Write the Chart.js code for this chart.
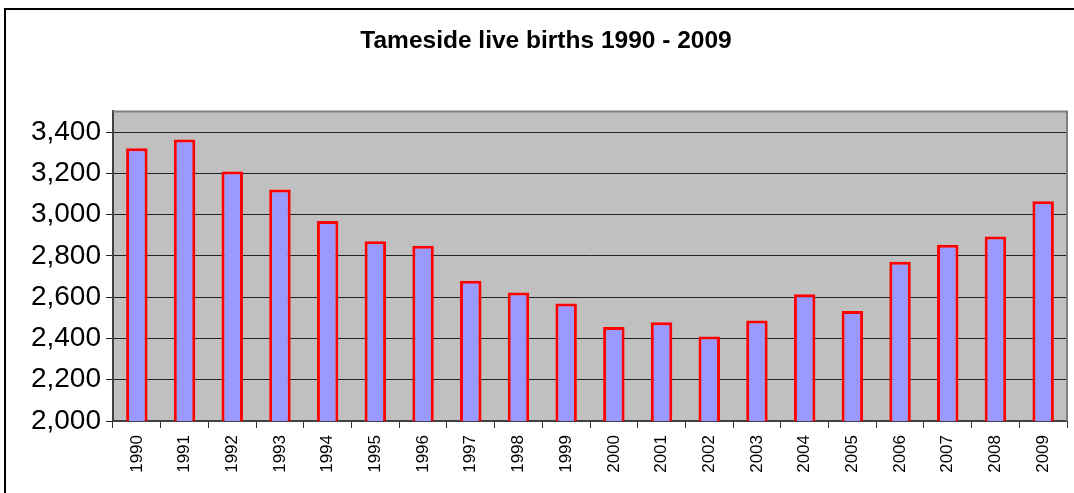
<!DOCTYPE html>
<html lang="en">

<head>
    <meta charset="UTF-8">
    <title>Tameside live births</title>
    <script src="https://cdn.jsdelivr.net/npm/chart.js"></script>
    <style>
        html, body { margin: 0; padding: 0; overflow: hidden; background: #fff; }
        #wrap { position: absolute; left: 0; top: 0; width: 1096px; height: 493px; }
    </style>
</head>

<body>
    <div id="wrap">
        <canvas id="myChart"></canvas>
    </div>

    <script>
        // data
        const years = ['1990', '1991', '1992', '1993', '1994', '1995', '1996', '1997', '1998', '1999',
            '2000', '2001', '2002', '2003', '2004', '2005', '2006', '2007', '2008', '2009'];
        const births = [3322, 3364, 3209, 3122, 2969, 2871, 2849, 2680, 2622, 2569,
            2455, 2479, 2410, 2487, 2614, 2533, 2772, 2854, 2894, 3065];
        const yTicks = [2000, 2200, 2400, 2600, 2800, 3000, 3200, 3400];
        const titleText = 'Tameside live births 1990 - 2009';

        // grey plot area + outer frame
        const frame = {
            id: 'frame',
            beforeDraw(chart) {
                const ctx = chart.ctx;
                const a = chart.chartArea;
                ctx.save();
                ctx.strokeStyle = '#000';
                ctx.lineWidth = 2;
                ctx.strokeRect(5, 9, chart.width + 20, chart.height + 20);
                ctx.fillStyle = '#c0c0c0';
                ctx.fillRect(a.left, a.top, a.right - a.left, a.bottom - a.top);
                ctx.restore();
            },
            afterDraw(chart) {
                const ctx = chart.ctx;
                const a = chart.chartArea;
                ctx.save();
                ctx.strokeStyle = '#808080';
                ctx.lineWidth = 2;
                ctx.beginPath();
                ctx.moveTo(a.left, a.top);
                ctx.lineTo(a.right, a.top);
                ctx.lineTo(a.right, a.bottom);
                ctx.stroke();
                ctx.restore();
            }
        };

        const data = {
            labels: years,
            datasets: [{
                label: 'Live births',
                data: births,
                backgroundColor: '#9999ff',
                borderColor: '#ff0000',
                borderWidth: 3,
                barPercentage: 0.45,
                categoryPercentage: 1
            }]
        };

        const config = {
            type: 'bar',
            data: data,
            plugins: [frame],
            options: {
                responsive: true,
                maintainAspectRatio: false,
                animation: false,
                layout: { padding: { left: 25, right: 29, top: 0, bottom: 0 } },
                plugins: {
                    legend: { display: false },
                    tooltip: { enabled: false },
                    title: {
                        display: true,
                        text: titleText,
                        color: '#000',
                        font: { family: 'Liberation Sans, Arial, sans-serif', size: 24.5, weight: 'bold' },
                        padding: { top: 27, bottom: 55 }
                    }
                },
                scales: {
                    x: {
                        grid: {
                            offset: true,
                            drawOnChartArea: false,
                            tickLength: 7,
                            color: '#333',
                            lineWidth: 1
                        },
                        border: { color: '#404040', width: 2 },
                        ticks: {
                            color: '#000',
                            maxRotation: 90,
                            minRotation: 90,
                            padding: 7,
                            font: { family: 'Liberation Sans, Arial, sans-serif', size: 17 }
                        },
                        afterFit(scale) { scale.height = 72; }
                    },
                    y: {
                        min: 2000,
                        max: 3500,
                        grid: {
                            color: '#222',
                            lineWidth: 1,
                            tickLength: 7
                        },
                        border: { color: '#404040', width: 2 },
                        ticks: {
                            color: '#000',
                            padding: 5,
                            font: { family: 'Liberation Sans, Arial, sans-serif', size: 28 },
                            callback: v => v.toLocaleString('en-US')
                        },
                        // 3,500 is only the top of the plot, not a labelled tick
                        afterBuildTicks(scale) {
                            scale.ticks = yTicks.map(v => ({ value: v }));
                        },
                        afterFit(scale) { scale.width = 88; }
                    }
                }
            }
        };

        new Chart(document.getElementById('myChart'), config);
    </script>
</body>

</html>
